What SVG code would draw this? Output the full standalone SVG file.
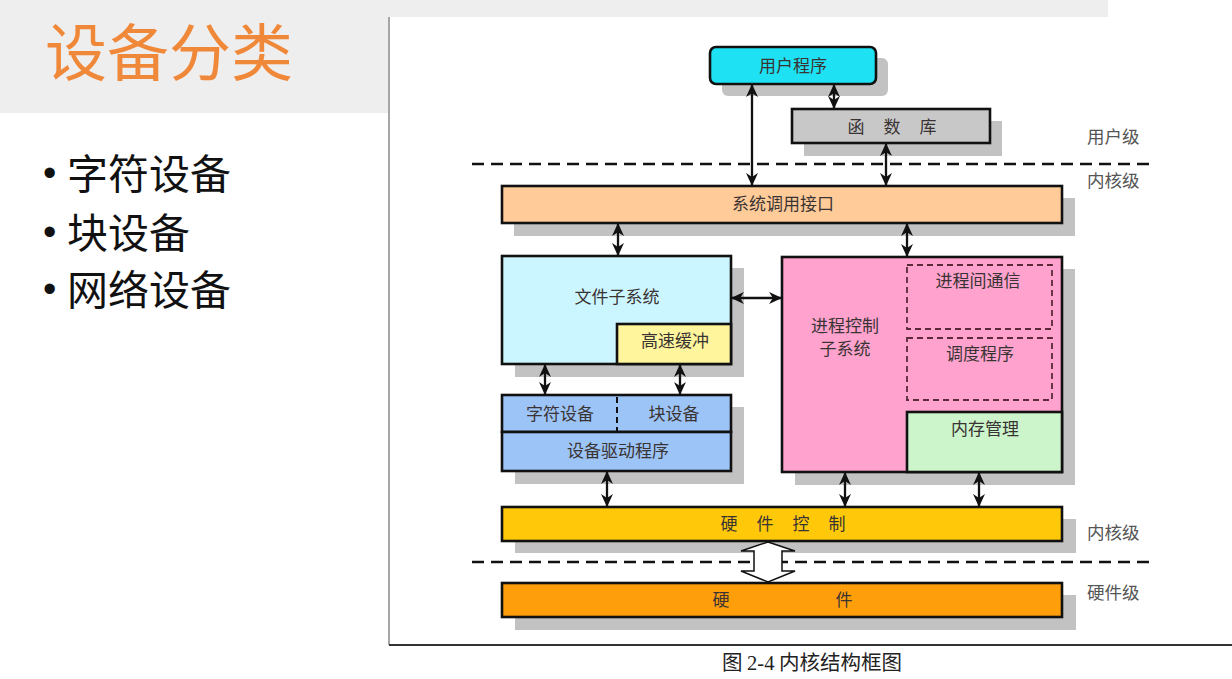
<svg xmlns="http://www.w3.org/2000/svg" width="1232" height="679" viewBox="0 0 1232 679">
<defs>
<style>
.bg{fill:#EFEEEF}
.sh{fill:#C2C2C2}
.box{stroke:#111;stroke-width:2.6}
.t{font-family:"Noto Sans CJK SC","Noto Sans",sans-serif;font-size:17px;fill:#3a3333;text-anchor:middle;dominant-baseline:central}
.lvl{font-family:"Noto Sans CJK SC","Noto Sans",sans-serif;font-size:17.5px;fill:#555;dominant-baseline:central}
.dash{stroke:#111;stroke-width:2.6;stroke-dasharray:12 7;fill:none}
.dbox{fill:none;stroke:#5a2a3a;stroke-width:1.8;stroke-dasharray:6 4}
.arr{stroke:#111;stroke-width:2.3;fill:none;marker-start:url(#ah);marker-end:url(#ah)}
.bul{font-family:"Noto Sans CJK SC","Noto Sans",sans-serif;font-size:41px;fill:#111}
.dot{font-family:"Liberation Sans",Arial,sans-serif;font-size:38px;fill:#111}
</style>
<marker id="ah" viewBox="0 0 12 12" refX="11" refY="6" markerWidth="13" markerHeight="13" markerUnits="userSpaceOnUse" orient="auto-start-reverse">
<path d="M0,0.5 L12,6 L0,11.5 L3.5,6 Z" fill="#111"/>
</marker>
</defs>

<!-- slide background -->
<rect x="0" y="0" width="1232" height="679" fill="#fff"/>
<rect class="bg" x="0" y="0" width="1108" height="17"/>
<rect class="bg" x="0" y="0" width="388" height="113"/>
<line x1="389" y1="17" x2="389" y2="645" stroke="#888" stroke-width="1.5"/>
<line x1="389" y1="645" x2="1232" y2="645" stroke="#333" stroke-width="2"/>

<g id="title">
<text x="45" y="76" font-family="'Noto Sans CJK SC','Noto Sans',sans-serif" font-size="62" fill="#F0883A">设备分类</text>
</g>
<g id="bullets">
<text class="dot" x="43" y="186">•</text>
<text class="bul" x="67" y="189">字符设备</text>
<text class="dot" x="43" y="245">•</text>
<text class="bul" x="67" y="248">块设备</text>
<text class="dot" x="43" y="302">•</text>
<text class="bul" x="67" y="305">网络设备</text>
</g>

<!-- level separators -->
<g id="levels">
<line class="dash" x1="472" y1="164" x2="1150" y2="164"/>
<line class="dash" x1="472" y1="562" x2="1150" y2="562"/>
<text class="lvl" x="1087" y="135">用户级</text>
<text class="lvl" x="1087" y="179">内核级</text>
<text class="lvl" x="1087" y="531">内核级</text>
<text class="lvl" x="1087" y="591">硬件级</text>
</g>

<g id="user-program">
<rect class="sh" x="722" y="58" width="166" height="38" rx="6"/>
<rect class="box" x="710" y="47" width="166" height="37" rx="6" fill="#1EE2F3"/>
<text class="t" x="793" y="64">用户程序</text>
</g>

<g id="library">
<rect class="sh" x="804" y="121" width="198" height="35"/>
<rect class="box" x="792" y="109" width="198" height="34" fill="#C8C8C8"/>
<text class="t" x="856 892 928" y="125">函数库</text>
</g>

<g id="syscall">
<rect class="sh" x="514" y="198" width="561" height="38"/>
<rect class="box" x="502" y="186" width="560" height="37" fill="#FFCC99"/>
<text class="t" x="783" y="202">系统调用接口</text>
</g>

<g id="file-subsystem">
<rect class="sh" x="515" y="268" width="229" height="109"/>
<rect class="box" x="502" y="256" width="229" height="108" fill="#CCF6FF"/>
<rect class="box" x="617" y="324" width="114" height="40" fill="#FFF59D"/>
<text class="t" x="617" y="295">文件子系统</text>
<text class="t" x="675" y="339">高速缓冲</text>
</g>

<g id="device-drivers">
<rect class="sh" x="515" y="407" width="229" height="77"/>
<rect class="box" x="502" y="395" width="229" height="37" fill="#9CC4F7"/>
<rect class="box" x="502" y="432" width="229" height="39" fill="#9CC4F7"/>
<line x1="617" y1="397" x2="617" y2="431" stroke="#111" stroke-width="2" stroke-dasharray="6 4"/>
<text class="t" x="560" y="412">字符设备</text>
<text class="t" x="674" y="412">块设备</text>
<text class="t" x="618" y="449">设备驱动程序</text>
</g>

<g id="process-control">
<rect class="sh" x="795" y="269" width="280" height="216"/>
<rect class="box" x="782" y="257" width="280" height="215" fill="#FFA3CE"/>
<rect class="dbox" x="907" y="265" width="145" height="64"/>
<rect class="dbox" x="907" y="338" width="145" height="62"/>
<rect class="box" x="907" y="412" width="155" height="60" fill="#CCF5CC"/>
<text class="t" x="845" y="324">进程控制</text>
<text class="t" x="845" y="347">子系统</text>
<text class="t" x="978" y="279">进程间通信</text>
<text class="t" x="980" y="352">调度程序</text>
<text class="t" x="985" y="427">内存管理</text>
</g>

<g id="hw-control">
<rect class="sh" x="515" y="519" width="561" height="34"/>
<rect class="box" x="502" y="507" width="560" height="34" fill="#FFC90A"/>
<text class="t" x="729 765 801 837" y="522">硬件控制</text>
</g>

<g id="hardware">
<rect class="sh" x="515" y="595" width="561" height="35"/>
<rect class="box" x="502" y="583" width="560" height="34" fill="#FF9E0B"/>
<text class="t" x="721 844" y="598">硬件</text>
</g>

<g id="connectors">
<line class="arr" x1="752" y1="85" x2="752" y2="185"/>
<line class="arr" x1="834" y1="85" x2="834" y2="108"/>
<line class="arr" x1="886" y1="144" x2="886" y2="185"/>
<line class="arr" x1="618" y1="224" x2="618" y2="255"/>
<line class="arr" x1="907" y1="224" x2="907" y2="256"/>
<line class="arr" x1="732" y1="298" x2="781" y2="298"/>
<line class="arr" x1="545" y1="365" x2="545" y2="394"/>
<line class="arr" x1="680" y1="365" x2="680" y2="394"/>
<line class="arr" x1="607" y1="472" x2="607" y2="506"/>
<line class="arr" x1="845" y1="473" x2="845" y2="506"/>
<line class="arr" x1="979" y1="473" x2="979" y2="506"/>
<polygon points="768,542 795,551 782,551 782,571 795,571 768,582 741,571 754,571 754,551 741,551" fill="#fff" stroke="#111" stroke-width="1.5"/>
</g>

<g id="caption">
<text x="722" y="670" font-family="'Noto Sans CJK SC','Noto Sans',sans-serif" font-size="20.5" fill="#222">图 <tspan font-family="'Liberation Serif',serif">2-4</tspan> 内核结构框图</text>
</g>
</svg>
